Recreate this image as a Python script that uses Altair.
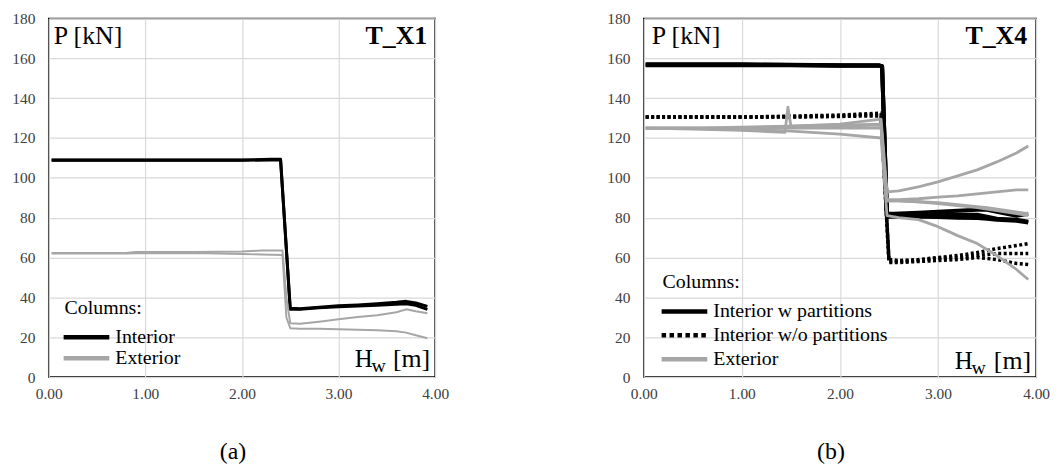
import altair as alt
import pandas as pd

FONT = "Liberation Serif"
BLACK = "#000000"
GRAY = "#a6a6a6"

# ---------------- Panel (a): T_X1 ----------------
a_int_x = [0.03, 0.5, 1.0, 1.5, 2.0, 2.3, 2.40, 2.50, 2.6, 2.8, 3.0, 3.2, 3.4, 3.6, 3.7, 3.8, 3.92]
a_int1_y = [109, 109, 109, 109, 109, 109.3, 109.3, 34.5, 34.3, 35, 35.8, 36.2, 36.8, 37.5, 38, 37.2, 35.5]
a_int2_y = [108.8, 108.8, 108.8, 108.8, 108.8, 109, 109, 34, 34, 34.8, 35.3, 35.7, 36, 36.5, 36.8, 36, 34]

a_ext_x = [0.03, 0.8, 0.9, 1.5, 2.0, 2.2, 2.42, 2.46, 2.50, 2.6, 2.8, 3.0, 3.2, 3.4, 3.6, 3.7, 3.8, 3.92]
a_ext1_y = [62.3, 62.3, 62.8, 62.8, 63, 63.5, 63.5, 40, 27, 26.8, 27.8, 29, 30.2, 31, 32.5, 34, 33, 32]
a_ext2_y = [62, 62, 62.2, 62.3, 61.8, 61.5, 61.3, 30, 24.5, 24.3, 24.2, 24, 23.8, 23.5, 23, 22.3, 21, 19.5]

# ---------------- Panel (b): T_X4 ----------------
b_int_x = [0.02, 0.5, 1.0, 1.5, 2.0, 2.40, 2.43, 2.48, 2.55, 2.8, 3.0, 3.2, 3.4, 3.5, 3.6, 3.8, 3.92]
b_int1_y = [157, 157, 157, 156.8, 156.5, 156.5, 156, 82, 82, 82.5, 83, 83.5, 84, 84, 83, 81, 82]
b_int2_y = [156.5, 156.5, 156.5, 156.5, 156.3, 156.2, 156, 80.5, 80.5, 80.5, 80.3, 80, 79.8, 79.5, 79, 78.5, 77.5]
b_int3_y = [156.8, 156.8, 156.8, 156.6, 156.4, 156.4, 156, 81, 81, 81.5, 81.5, 81.5, 81.5, 80.5, 79.5, 79, 78]

b_dot_x = [0.02, 0.5, 1.0, 1.5, 2.0, 2.2, 2.42, 2.50, 2.6, 2.8, 3.0, 3.2, 3.4, 3.6, 3.8, 3.92]
b_dot1_y = [130.5, 130.5, 130.5, 131, 131.5, 132, 132.5, 59, 58.5, 59, 60, 61, 62.5, 64.5, 66, 67]
b_dot2_y = [130.5, 130.5, 130.5, 130.7, 131, 131.5, 131.5, 58, 58, 58.5, 59.5, 60, 61, 62, 62, 62]
b_dot3_y = [130.5, 130.5, 130.5, 130.5, 130.8, 131, 131, 57.5, 57.5, 58, 58.5, 59, 60, 59, 57, 56.5]

b_ext_x = [0.02, 0.5, 1.0, 1.5, 2.0, 2.42, 2.48, 2.6, 2.8, 3.0, 3.2, 3.4, 3.6, 3.8, 3.92]
b_ext1_y = [125, 125, 125.5, 126, 127, 129.5, 93, 93.5, 95.5, 98, 101, 104, 108, 112.5, 116]
b_ext2_y = [125, 125, 125, 125.5, 126, 126.5, 89, 89, 89.5, 90.3, 91, 92, 93, 94, 94]
b_ext3_y = [125, 125, 125, 125, 125, 125, 88.5, 88.5, 88, 87, 86, 85, 83.5, 82, 81]
b_ext5_y = [125, 125, 124.5, 123.5, 122, 120, 81, 80, 79, 75.5, 71, 67, 61, 54, 49]
b_ext4_x = [0.02, 0.5, 1.0, 1.44, 1.47, 1.50, 2.0, 2.42, 2.48, 2.6, 2.8, 3.0, 3.2, 3.5, 3.92]
b_ext4_y = [125, 124.5, 123.8, 122.8, 135.5, 126, 126.5, 127, 88.5, 88.5, 88, 87.5, 86.5, 85, 82]

y_ticks = [0, 20, 40, 60, 80, 100, 120, 140, 160, 180]
x_ticks = [0, 1, 2, 3, 4]


def make_df(xs_list, ys_list, name):
    rows = []
    for i, (xs, ys) in enumerate(zip(xs_list, ys_list)):
        for j, (x, y) in enumerate(zip(xs, ys)):
            rows.append({"x": x, "y": y, "line": f"{name}{i}", "i": j})
    return pd.DataFrame(rows)


def panel(series, legend, title, caption, width, height, pos):
    x_axis = alt.Axis(values=x_ticks, format=".2f", title=caption, titleFont=FONT,
                      titleFontSize=24, titleFontWeight="normal", titleColor="black",
                      titleX=pos["cap_x"], titleY=75, titleBaseline="middle", titleAlign="center",
                      labelFont=FONT, labelFontSize=15.5, labelColor="#404040", labelPadding=10,
                      ticks=False, domain=False, grid=True, gridColor="#d9d9d9", gridWidth=1.2,
                      labelFlush=False)
    y_axis = alt.Axis(values=y_ticks, title=None, labelFont=FONT, labelFontSize=15.5,
                      labelColor="#404040", labelPadding=14, ticks=False, domain=False,
                      grid=True, gridColor="#d9d9d9", gridWidth=1.2)
    xs = alt.X("x:Q", scale=alt.Scale(domain=[0, 4], nice=False), axis=x_axis)
    ys = alt.Y("y:Q", scale=alt.Scale(domain=[0, 180], nice=False), axis=y_axis)
    layers = []
    for df, color, sw, dash in series:
        kw = dict(color=color, strokeWidth=sw, strokeCap="butt", strokeJoin="round")
        if dash:
            kw["strokeDash"] = dash
        layers.append(alt.Chart(df).mark_line(**kw).encode(
            x=xs, y=ys, detail="line:N", order="i:Q"))

    def txt(t, x, y, size, align="left", baseline="middle", weight="normal"):
        return alt.Chart(pd.DataFrame({"t": [t]})).mark_text(
            font=FONT, fontSize=size, align=align, baseline=baseline,
            fontWeight=weight, color="black").encode(
            x=alt.value(x), y=alt.value(y), text="t:N")

    layers.append(txt("P [kN]", pos["p_x"], 18, 26))
    layers.append(txt(title, pos["t_x"], 18, 26, align="right", weight="bold"))
    layers.append(txt("Columns:", pos["leg_x"], pos["leg_y"], 20))
    for k, (label, color, sw, dash) in enumerate(legend):
        yy = pos["leg_y"] + pos["row0"] + k * pos["row"]
        kw = dict(color=color, strokeWidth=sw, strokeCap="butt")
        if dash:
            kw["strokeDash"] = dash
        layers.append(alt.Chart(pd.DataFrame({"t": [label]})).mark_rule(**kw).encode(
            x=alt.value(pos["leg_x"] - 1), x2=alt.value(pos["leg_x"] + 45), y=alt.value(yy)))
        layers.append(txt(label, pos["leg_x"] + 51, yy, 20))
    layers.append(txt("H", pos["h_x"], pos["h_y"], 25, baseline="alphabetic"))
    layers.append(txt("w", pos["h_x"] + 17, pos["h_y"] + 5, 20, baseline="alphabetic"))
    layers.append(txt("[m]", pos["m_x"], pos["h_y"], 26, align="right", baseline="alphabetic"))
    return alt.layer(*layers).properties(width=width, height=height)


a_series = [
    (make_df([a_int_x, a_int_x], [a_int1_y, a_int2_y], "ai"), BLACK, 3, None),
    (make_df([a_ext_x, a_ext_x], [a_ext1_y, a_ext2_y], "ae"), GRAY, 2, None),
]
a_legend = [("Interior", BLACK, 4.5, None), ("Exterior", GRAY, 4.5, None)]

b_series = [
    (make_df([b_int_x] * 3, [b_int1_y, b_int2_y, b_int3_y], "bi"), BLACK, 4, None),
    (make_df([b_dot_x] * 3, [b_dot1_y, b_dot2_y, b_dot3_y], "bd"), BLACK, 3.5, [3, 2.5]),
    (make_df([b_ext_x, b_ext_x, b_ext_x, b_ext4_x, b_ext_x],
             [b_ext1_y, b_ext2_y, b_ext3_y, b_ext4_y, b_ext5_y], "be"), GRAY, 2.8, None),
]
b_legend = [("Interior w partitions", BLACK, 4.5, None),
            ("Interior w/o partitions", BLACK, 4.5, [4.5, 3.5]),
            ("Exterior", GRAY, 4.5, None)]

left = panel(a_series, a_legend, "T_X1", "(a)", 389, 361,
             dict(cap_x=185, p_x=5, t_x=381, leg_x=16, leg_y=292, row0=29, row=21,
                  h_x=308, h_y=351, m_x=384))
right = panel(b_series, b_legend, "T_X4", "(b)", 395, 361,
              dict(cap_x=188, p_x=8, t_x=386, leg_x=19, leg_y=265, row0=30, row=24,
                   h_x=313, h_y=353, m_x=390))

chart = alt.hconcat(left, right, spacing=210, bounds="flush").properties(
    padding={"left": 3, "top": 1, "right": 0, "bottom": 0}
).configure_view(stroke="black", strokeWidth=1.5)

chart.save("out.html", embed_options={"renderer": "svg", "actions": False})
